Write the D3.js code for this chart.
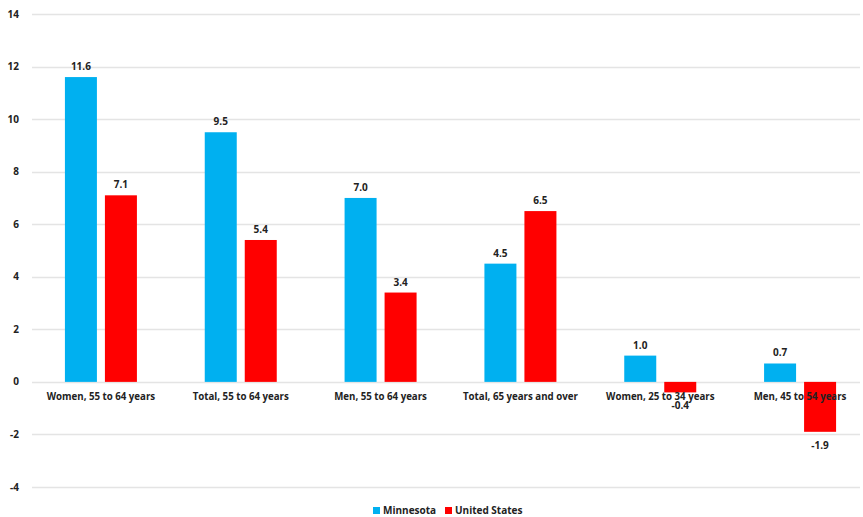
<!DOCTYPE html>
<html lang="en">
<head>
<meta charset="utf-8">
<script src="https://d3js.org/d3.v7.min.js"></script>
<style type="text/css">
body {
	margin: 0;
	background: white;
	font-family: "Open Sans", sans-serif;
}
text {
	font-weight: bold;
	fill: #222;
}
</style>
</head>
<body>
<svg id="chart"></svg>
<script type="text/javascript">

	// categories and values
	var categories = ["Women, 55 to 64 years", "Total, 55 to 64 years", "Men, 55 to 64 years",
		"Total, 65 years and over", "Women, 25 to 34 years", "Men, 45 to 54 years"];
	var minnesota = [11.6, 9.5, 7.0, 4.5, 1.0, 0.7];
	var unitedStates = [7.1, 5.4, 3.4, 6.5, -0.4, -1.9];
	var seriesNames = ["Minnesota", "United States"];
	var seriesColors = ["#00B0F0", "#FF0000"];
	var yTicks = [-4, -2, 0, 2, 4, 6, 8, 10, 12, 14];

	var width = 863, height = 517;

	var svg = d3.select("#chart")
		.attr("width", width)
		.attr("height", height);

	// y scale: 14 at top gridline, -4 at bottom gridline
	var y = d3.scaleLinear()
		.domain([-4, 14])
		.range([487, 14]);

	var x = d3.scaleBand()
		.domain(categories)
		.range([31, 870]);

	var xSub = d3.scaleBand()
		.domain(seriesNames)
		.range([x.bandwidth() / 2 - 36, x.bandwidth() / 2 + 36])
		.paddingInner(0.2);

	// hyphen instead of unicode minus, like the original
	var fmt = d => d3.format(".1f")(d).replace("\u2212", "-");

	// gridlines
	svg.append("g")
		.selectAll("line")
		.data(yTicks)
		.join("line")
		.attr("x1", 32)
		.attr("x2", 860)
		.attr("y1", d => Math.round(y(d)) + 0.5)
		.attr("y2", d => Math.round(y(d)) + 0.5)
		.style("stroke", "#e4e4e4")
		.style("stroke-width", 1.5);

	// y tick labels
	svg.append("g")
		.selectAll("text")
		.data(yTicks)
		.join("text")
		.attr("x", 19)
		.attr("y", d => y(d) + 3.5)
		.attr("text-anchor", "end")
		.style("font-size", "10px")
		.text(d => d);

	var rows = categories.map(function(c, i) {
		return [
			{cat: c, series: seriesNames[0], value: minnesota[i], color: seriesColors[0]},
			{cat: c, series: seriesNames[1], value: unitedStates[i], color: seriesColors[1]}
		];
	}).flat();

	// bars
	svg.append("g")
		.selectAll("rect")
		.data(rows)
		.join("rect")
		.attr("x", d => x(d.cat) + xSub(d.series))
		.attr("width", xSub.bandwidth())
		.attr("y", d => y(Math.max(0, d.value)))
		.attr("height", d => Math.abs(y(d.value) - y(0)))
		.style("fill", d => d.color);

	// category labels (drawn on top of bars, like the original)
	svg.append("g")
		.selectAll("text")
		.data(categories)
		.join("text")
		.attr("x", d => x(d) + x.bandwidth() / 2)
		.attr("y", y(0) + 18)
		.attr("text-anchor", "middle")
		.style("font-size", "9.7px")
		.text(d => d);

	// value labels
	svg.append("g")
		.selectAll("text")
		.data(rows)
		.join("text")
		.attr("x", d => x(d.cat) + xSub(d.series) + xSub.bandwidth() / 2)
		.attr("y", d => d.value >= 0 ? y(d.value) - 7 : y(d.value) + 17)
		.attr("text-anchor", "middle")
		.style("font-size", "10px")
		.text(d => fmt(d.value));

	// legend
	var legend = svg.append("g")
		.selectAll("g")
		.data(seriesNames)
		.join("g")
		.attr("transform", (d, i) => "translate(" + (373 + i * 72) + ",507)");
	legend.append("rect")
		.attr("width", 7)
		.attr("height", 7)
		.style("fill", (d, i) => seriesColors[i]);
	legend.append("text")
		.attr("x", 10)
		.attr("y", 7)
		.style("font-size", "10px")
		.text(d => d);

</script>
</body>
</html>
